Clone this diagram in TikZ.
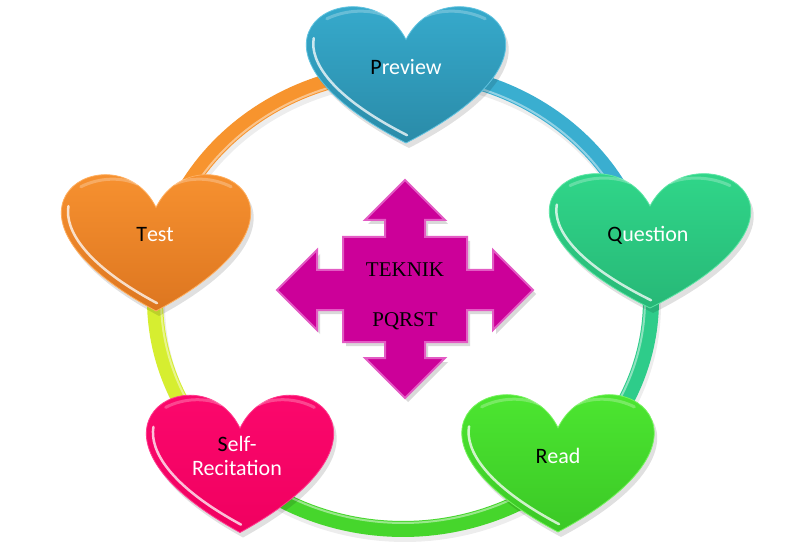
\documentclass[tikz,border=0pt]{standalone}
\usepackage{fontspec}
\newfontfamily\calib{Carlito}
\newfontfamily\cserif{Liberation Serif}
\definecolor{pvT}{HTML}{3AB4D8}\definecolor{pvB}{HTML}{2A8BA8}
\definecolor{quT}{HTML}{33E08F}\definecolor{quB}{HTML}{27B877}
\definecolor{rdT}{HTML}{52F034}\definecolor{rdB}{HTML}{3BC826}
\definecolor{srT}{HTML}{FF0A70}\definecolor{srB}{HTML}{F00060}
\definecolor{tsT}{HTML}{FF9A35}\definecolor{tsB}{HTML}{DD7620}
\definecolor{rOr}{HTML}{F7942E}\definecolor{rCy}{HTML}{3AAED0}
\definecolor{rTe}{HTML}{2ECC8A}\definecolor{rGr}{HTML}{46D62C}
\definecolor{rYe}{HTML}{D6EE30}
\definecolor{arrC}{HTML}{CC0099}\definecolor{arrE}{HTML}{E35BC4}
\tikzset{
  ringseg/.style={line width=16bp},
  ringhl/.style={line width=2bp, white, opacity=.45},
  ringsh/.style={line width=16bp, black, opacity=.07},
  htxt/.style={font=\calib\fontsize{22bp}{26bp}\selectfont, text=white, anchor=base, inner sep=0pt},
  ctxt/.style={font=\cserif\fontsize{21bp}{24bp}\selectfont, text=black, anchor=base, inner sep=0pt},
  heartsh/.style={fill=black, opacity=.12},
  hearthl/.style={draw=white, line width=2.5bp, opacity=.75, line cap=round},
  heartglare/.style={draw=white, line width=3bp, opacity=.25, line cap=round},
}
\newcommand\heartpath[4]{({#1},{#2-#4/4}) .. controls ({#1+10*#3/48},{#2-#4/2-#4/3}) and ({#1+49*#3/48},{#2-#4/4}) .. ({#1},{#2+#4/2}) .. controls ({#1-49*#3/48},{#2-#4/4}) and ({#1-10*#3/48},{#2-#4/2-#4/3}) .. ({#1},{#2-#4/4}) -- cycle}
% lower-left part of the left curve (t from 0 to 0.4)
\newcommand\heartleft[4]{({#1},{#2+0.5*#4}) .. controls ({#1-0.4083*#3},{#2+0.2*#4}) and ({#1-0.5233*#3},{#2-0.0733*#4}) .. ({#1-0.501*#3},{#2-0.256*#4})}
\newcommand\oneheart[6]{%
  \path[heartsh] \heartpath{#1+3}{#2+5}{#3}{#4};
  \path[top color=#5, bottom color=#6, draw=#5!80!white, line width=.8bp] \heartpath{#1}{#2}{#3}{#4};
  \draw[hearthl] \heartleft{#1+1}{#2-3}{#3*0.94}{#4*0.93};
  \draw[heartglare] ({#1-0.40*#3},{#2-0.40*#4}) .. controls ({#1-0.30*#3},{#2-0.47*#4}) and ({#1-0.18*#3},{#2-0.47*#4}) .. ({#1-0.10*#3},{#2-0.42*#4});
  \draw[heartglare] ({#1+0.10*#3},{#2-0.42*#4}) .. controls ({#1+0.18*#3},{#2-0.47*#4}) and ({#1+0.30*#3},{#2-0.47*#4}) .. ({#1+0.40*#3},{#2-0.40*#4});
}
\newcommand\ringpart[3]{%
  \draw[ringsh] plot[domain=#1:#2, samples=50] ({405+248*cos(\x)},{305+229*sin(\x)});
  \draw[ringseg, #3] plot[domain=#1:#2, samples=50] ({403+248*cos(\x)},{300+229*sin(\x)});
  \draw[ringhl] plot[domain=#1:#2, samples=50] ({403+242*cos(\x)},{300+223*sin(\x)});
}
\begin{document}
\begin{tikzpicture}[x=1bp, y=-1bp]
\path[use as bounding box, fill=white] (0,0) rectangle (804,553);
% ring
\ringpart{195}{272}{rOr}
\ringpart{268}{345}{rCy}
\ringpart{-15}{50}{rTe}
\ringpart{48}{133}{rGr}
\ringpart{130}{197}{rYe}
% hearts
\oneheart{406}{74}{198}{138}{pvT}{pvB}
\oneheart{650}{240}{200}{136}{quT}{quB}
\oneheart{558}{462.5}{191}{139}{rdT}{rdB}
\oneheart{240}{463}{186}{139}{srT}{srB}
\oneheart{156}{242}{188}{138}{tsT}{tsB}
% central quad arrow
\path[fill=black, opacity=.15, shift={(3,4)}] (405,180) -- (445,220) -- (425,220) -- (425,237) -- (467,237) -- (467,270) -- (493,270) -- (493,250) -- (533,290) -- (493,330) -- (493,310) -- (467,310) -- (467,342) -- (425,342) -- (425,358) -- (445,358) -- (405,398) -- (365,358) -- (385,358) -- (385,342) -- (343,342) -- (343,310) -- (317,310) -- (317,330) -- (277,290) -- (317,250) -- (317,270) -- (343,270) -- (343,237) -- (385,237) -- (385,220) -- (365,220) -- cycle;
\path[fill=arrC, draw=arrE, line width=2bp, line join=miter] (405,180) -- (445,220) -- (425,220) -- (425,237) -- (467,237) -- (467,270) -- (493,270) -- (493,250) -- (533,290) -- (493,330) -- (493,310) -- (467,310) -- (467,342) -- (425,342) -- (425,358) -- (445,358) -- (405,398) -- (365,358) -- (385,358) -- (385,342) -- (343,342) -- (343,310) -- (317,310) -- (317,330) -- (277,290) -- (317,250) -- (317,270) -- (343,270) -- (343,237) -- (385,237) -- (385,220) -- (365,220) -- cycle;
\node[ctxt] (teknik) at (405,277) {TEKNIK};
\node[ctxt] (pqrst) at (405,326) {PQRST};
% heart labels
\node[htxt] (preview) at (406,75) {\textcolor{black}{P}review};
\node[htxt] (question) at (648,242) {\textcolor{black}{Q}uestion};
\node[htxt] (read) at (558,463) {\textcolor{black}{R}ead};
\node[htxt] (self) at (237,451) {\textcolor{black}{S}elf-};
\node[htxt] (recit) at (237,475) {Recitation};
\node[htxt] (test) at (155,242) {\textcolor{black}{T}est};
\end{tikzpicture}
\end{document}
